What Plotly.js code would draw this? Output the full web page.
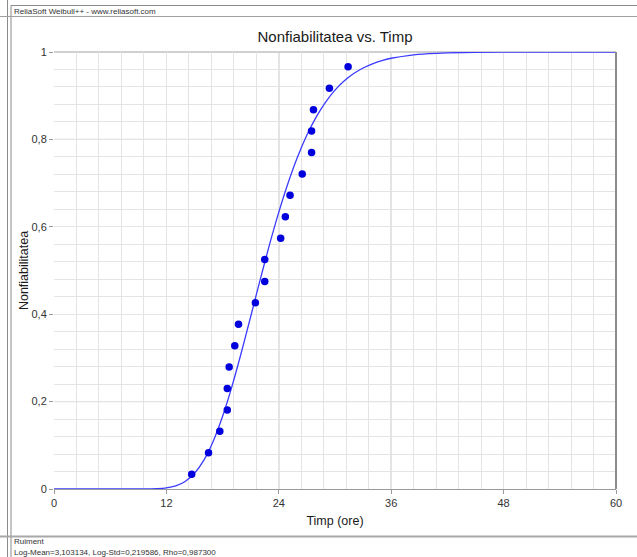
<!DOCTYPE html>
<html>
<head>
<meta charset="utf-8">
<script src="https://cdn.plot.ly/plotly-3.0.1.min.js"></script>
<style>
html,body{margin:0;padding:0;background:#fff;}
#chart{width:637px;height:557px;}
</style>
</head>
<body>
<div id="chart"></div>
<script>
// Failure data points (time, median rank unreliability)
var failTime = [14.7, 16.5, 17.7, 18.5, 18.5, 18.7, 19.3, 19.7, 21.5, 22.5, 22.5, 24.2, 24.7, 25.2, 26.5, 27.5, 27.5, 27.7, 29.4, 31.4];
var failUnrel = [0.034, 0.083, 0.132, 0.181, 0.230, 0.279, 0.328, 0.377, 0.426, 0.475, 0.525, 0.574, 0.623, 0.672, 0.721, 0.770, 0.819, 0.868, 0.917, 0.966];

// Fitted unreliability curve
var curveTime = [0, 5, 8, 9, 10, 11, 12, 13, 14, 15, 16, 17, 18, 19, 20, 21, 22, 23, 24, 25, 26, 27, 28, 29, 30, 31, 32, 33, 34, 35, 36, 38, 40, 42, 45, 50, 55, 60];
var curveUnrel = [0, 0, 0.000002, 0.00002, 0.00013, 0.00066, 0.0024, 0.0071, 0.0173, 0.0360, 0.0661, 0.1095, 0.1663, 0.2350, 0.3124, 0.3948, 0.4780, 0.5586, 0.6335, 0.7009, 0.7598, 0.8099, 0.8516, 0.8855, 0.9127, 0.9341, 0.9507, 0.9634, 0.9730, 0.9803, 0.9857, 0.9925, 0.9962, 0.9981, 0.9993, 0.9999, 1.0, 1.0];

// Text
var chartTitle = "Nonfiabilitatea vs. Timp";
var xTitle = "Timp (ore)";
var yTitle = "Nonfiabilitatea";
var headerText = "ReliaSoft Weibull++ - www.reliasoft.com";
var footerName = "Ruiment";
var footerParams = "Log-Mean=3,103134, Log-Std=0,219586, Rho=0,987300";

// Layout helpers (pixel -> paper)
var W = 637, H = 557;
var mL = 54, mR = 21, mT = 52, mB = 68;
var pw = W - mL - mR, ph = H - mT - mB;
function px(p){ return (p - mL) / pw; }
function py(p){ return (H - mB - p) / ph; }

var FONT = "Liberation Sans, Arial, sans-serif";

function hline(y, x0, x1, color, w){
  return {type:'line', xref:'paper', yref:'paper', x0:px(x0), x1:px(x1), y0:py(y), y1:py(y), line:{color:color, width:w||1}, layer:'above'};
}
function vline(x, y0, y1, color, w){
  return {type:'line', xref:'paper', yref:'paper', x0:px(x), x1:px(x), y0:py(y0), y1:py(y1), line:{color:color, width:w||1}, layer:'above'};
}

var darkGridX = [24, 36];
var darkGridY = [0.2, 0.8];

var shapes = [
  vline(7.5, 0, 557, '#8a8a8a'),
  vline(11, 5.5, 557, '#8a8a8a'),
  hline(5.5, 11, 637, '#8a8a8a'),
  hline(16.5, 0, 637, '#a0a0a0'),
  hline(536.5, 0, 637, '#a8a8a8', 2)
];
darkGridX.forEach(function(v){
  shapes.push({type:'line', xref:'x', yref:'paper', x0:v, x1:v, y0:0, y1:1, line:{color:'#a6a6a6', width:1}, layer:'between'});
});
darkGridY.forEach(function(v){
  shapes.push({type:'line', xref:'paper', yref:'y', x0:0, x1:1, y0:v, y1:v, line:{color:'#a6a6a6', width:1}, layer:'between'});
});
// plot frame top and right
shapes.push({type:'line', xref:'paper', yref:'paper', x0:0, x1:1, y0:1, y1:1, line:{color:'#a0a0a0', width:1}, layer:'between'});
shapes.push({type:'line', xref:'paper', yref:'paper', x0:1, x1:1, y0:0, y1:1, line:{color:'#8c8c8c', width:2}, layer:'above'});

var traces = [
  {
    x: curveTime, y: curveUnrel, type:'scatter', mode:'lines',
    line:{color:'#3b3bff', width:1.3, shape:'spline', smoothing:0.8},
    hoverinfo:'skip', showlegend:false
  },
  {
    x: failTime, y: failUnrel, type:'scatter', mode:'markers',
    marker:{color:'#0000dc', size:7.5, line:{width:0}},
    showlegend:false, cliponaxis:false
  }
];

var layout = {
  width: W, height: H,
  margin:{l:mL, r:mR, t:mT, b:mB, pad:0},
  paper_bgcolor:'#ffffff', plot_bgcolor:'#ffffff',
  separators: ',.',
  font:{family:FONT, color:'#333333', size:11},
  showlegend:false,
  title:{text: chartTitle, font:{family:FONT, size:15, color:'#1a1a1a'}, x:0.5, xref:'paper', xanchor:'center', y: 1 - 37/H, yref:'container', yanchor:'middle'},
  xaxis:{
    range:[0,60], dtick:12, tick0:0, tickmode:'linear',
    showgrid:true, gridcolor:'#e4e4e4', gridwidth:1,
    minor:{dtick:2.4, tick0:0, showgrid:true, gridcolor:'#e4e4e4', gridwidth:1, ticks:''},
    zeroline:false, showline:true, linecolor:'#9a9a9a', linewidth:1,
    ticks:'outside', ticklen:4, tickcolor:'#9a9a9a',
    tickfont:{family:FONT, size:11, color:'#333'},
    title:{text:xTitle, font:{family:FONT, size:12.5, color:'#1a1a1a'}, standoff:8},
    fixedrange:true
  },
  yaxis:{
    range:[0,1], dtick:0.2, tick0:0, tickmode:'linear',
    showgrid:true, gridcolor:'#e4e4e4', gridwidth:1,
    minor:{dtick:0.04, tick0:0, showgrid:true, gridcolor:'#e4e4e4', gridwidth:1, ticks:''},
    zeroline:false, showline:false,
    ticks:'outside', ticklen:4, tickcolor:'#9a9a9a',
    tickfont:{family:FONT, size:11, color:'#333'},
    title:{text:yTitle, font:{family:FONT, size:12.5, color:'#1a1a1a'}, standoff:0},
    fixedrange:true
  },
  shapes: shapes,
  annotations:[
    {text: headerText, xref:'paper', yref:'paper', x:px(12), y:py(11.5), xanchor:'left', yanchor:'middle', showarrow:false, font:{family:FONT, size:8, color:'#333'}},
    {text: footerName, xref:'paper', yref:'paper', x:px(12), y:py(541.5), xanchor:'left', yanchor:'middle', showarrow:false, font:{family:FONT, size:8, color:'#333'}},
    {text: footerParams, xref:'paper', yref:'paper', x:px(12), y:py(552), xanchor:'left', yanchor:'middle', showarrow:false, font:{family:FONT, size:8, color:'#333'}}
  ]
};

Plotly.newPlot('chart', traces, layout, {displayModeBar:false, staticPlot:true});
</script>
</body>
</html>
